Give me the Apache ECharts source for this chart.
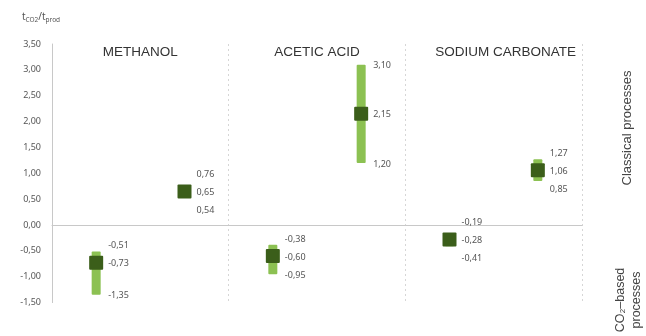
<!DOCTYPE html>
<html><head><meta charset="utf-8">
<script src="https://cdn.jsdelivr.net/npm/echarts@6/dist/echarts.min.js"></script>
<style>html,body{margin:0;padding:0;background:#fff}#c{width:646px;height:336px}</style>
</head><body><div id="c"></div>
<script>
const products = ['METHANOL', 'ACETIC ACID', 'SODIUM CARBONATE'];
const slots = ['Methanol CO2-based', 'Methanol classical', 'Acetic acid CO2-based', 'Acetic acid classical', 'Sodium carbonate CO2-based', 'Sodium carbonate classical'];
const meanValues = [-0.73, 0.65, -0.60, 2.15, -0.28, 1.06];
const maxValues = [-0.51, 0.76, -0.38, 3.10, -0.19, 1.27];
const minValues = [-1.35, 0.54, -0.95, 1.20, -0.41, 0.85];
const yTicks = [-1.5, -1.0, -0.5, 0, 0.5, 1.0, 1.5, 2.0, 2.5, 3.0, 3.5];

const fmt = v => v.toFixed(2).replace('.', ',');
const data = slots.map((s, i) => [i, meanValues[i], maxValues[i], minValues[i]]);

const chart = echarts.init(document.getElementById('c'), null, {renderer: 'canvas'});
chart.setOption({
  animation: false,
  backgroundColor: '#fff',
  grid: {left: 52, right: 64, top: 44, bottom: 33.4},
  xAxis: [{
    type: 'category', data: slots, boundaryGap: true,
    axisLine: {onZero: true, lineStyle: {color: '#c8c8c8', width: 1}},
    axisTick: {show: false}, axisLabel: {show: false},
    splitLine: {show: true, interval: (idx) => idx === 2 || idx === 4,
      lineStyle: {color: '#d6d6d6', type: [2, 3], width: 1}}
  }, {
    type: 'category', data: [products[0], products[1], {value: products[2], textStyle: {padding: [0, 0, 0, 24]}}],
    position: 'top', boundaryGap: true,
    axisLine: {show: false}, axisTick: {show: false},
    axisLabel: {inside: true, interval: 0, hideOverlap: false, margin: 1, verticalAlign: 'top', color: '#333', fontSize: 13.5, fontFamily: 'Liberation Sans'}
  }],
  yAxis: {
    type: 'value', min: yTicks[0], max: yTicks[yTicks.length - 1], interval: 0.5,
    axisLine: {show: true, lineStyle: {color: '#c8c8c8'}},
    axisTick: {show: false}, splitLine: {show: false},
    axisLabel: {formatter: v => fmt(v), color: '#555', fontSize: 9, fontFamily: 'Noto Sans', margin: 11},
    name: '{a|t}{s|CO2}{a|/t}{s|prod}', nameLocation: 'end', nameGap: 22,
    nameTextStyle: {padding: [0, 22, 0, 0], rich: {
      a: {fontSize: 10, color: '#555', fontFamily: 'Noto Sans', lineHeight: 14, verticalAlign: 'bottom'},
      s: {fontSize: 6.5, color: '#555', fontFamily: 'Noto Sans', lineHeight: 10, verticalAlign: 'bottom', padding: [0, 0, -2, 0]}
    }}
  },
  graphic: [
    {type: 'text', x: 627, y: 128, rotation: Math.PI / 2,
      style: {text: 'Classical processes', fill: '#444', font: '13px "Liberation Sans"', align: 'center', verticalAlign: 'middle'}},
    {type: 'text', x: 629, y: 300, rotation: Math.PI / 2,
      style: {text: 'CO\u2082\u2013based\nprocesses', fill: '#444', font: '12.5px "Liberation Sans"', align: 'center', verticalAlign: 'middle', lineHeight: 16}}
  ],
  series: [{
    type: 'custom',
    xAxisIndex: 0,
    data: data,
    renderItem: function (params, api) {
      const c = api.coord([api.value(0), api.value(1)]);
      const top = api.coord([api.value(0), api.value(2)]);
      const bot = api.coord([api.value(0), api.value(3)]);
      const x = c[0], yMean = c[1];
      const bw = 9, sq = 14, gap = 18;
      const yMaxLab = Math.min(top[1], yMean - gap);
      const yMinLab = Math.max(bot[1], yMean + gap);
      const ts = {fill: '#555', font: '9px "Noto Sans"', align: 'left', verticalAlign: 'middle'};
      const lx = x + 12;
      return {type: 'group', children: [
        {type: 'rect', shape: {x: x - bw / 2, y: top[1], width: bw, height: bot[1] - top[1], r: 1},
          style: {fill: '#8cc152'}},
        {type: 'rect', shape: {x: x - sq / 2, y: yMean - sq / 2, width: sq, height: sq, r: 1},
          style: {fill: '#3b5e1a'}},
        {type: 'text', x: lx, y: yMaxLab + 1, style: Object.assign({text: fmt(api.value(2))}, ts)},
        {type: 'text', x: lx, y: yMean + 1, style: Object.assign({text: fmt(api.value(1))}, ts)},
        {type: 'text', x: lx, y: yMinLab + 1, style: Object.assign({text: fmt(api.value(3))}, ts)}
      ]};
    }
  }]
});
</script></body></html>
